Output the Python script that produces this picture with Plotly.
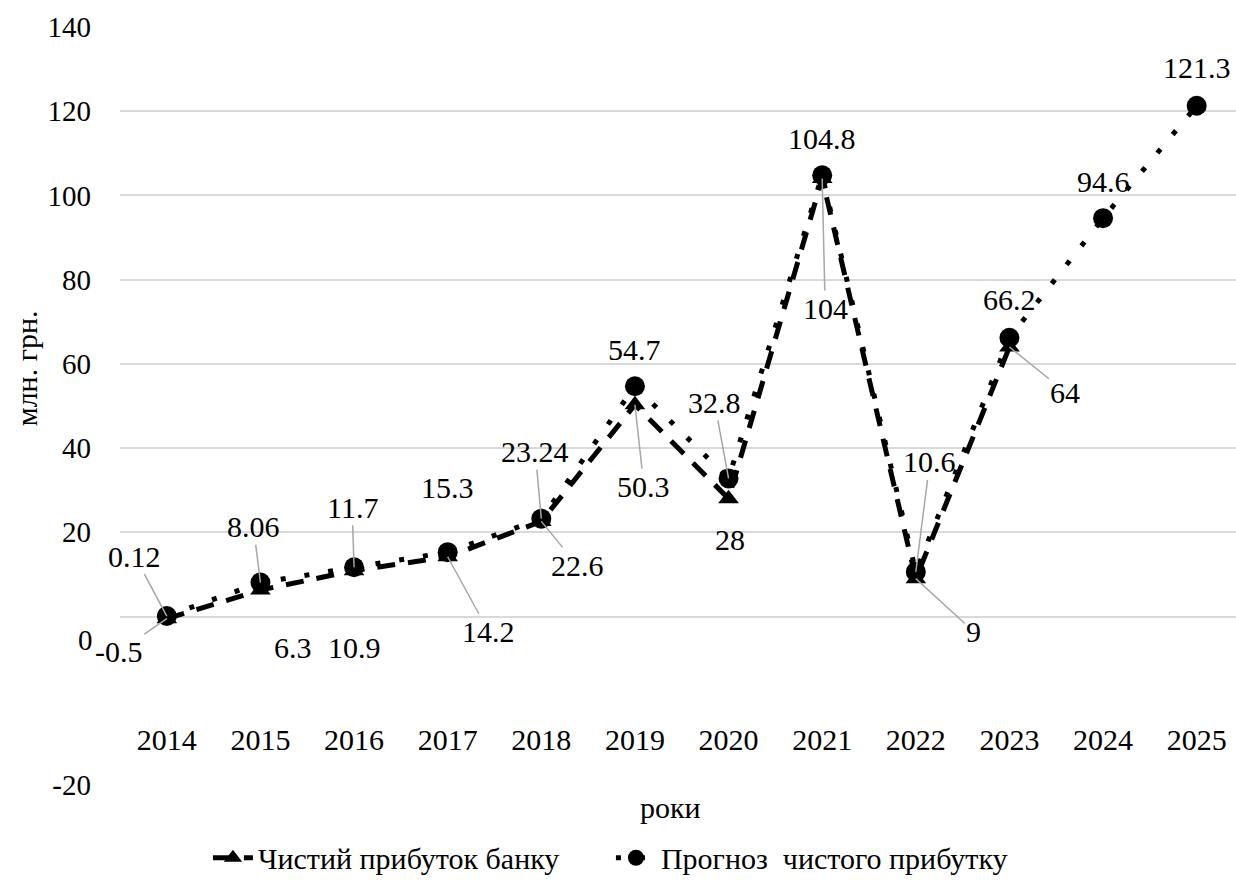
import plotly.graph_objects as go

# Values, mln UAH
years = ["2014", "2015", "2016", "2017", "2018", "2019",
         "2020", "2021", "2022", "2023", "2024", "2025"]
profit = [-0.5, 6.3, 10.9, 14.2, 22.6, 50.3, 28, 104, 9, 64]
forecast = [0.12, 8.06, 11.7, 15.3, 23.24, 54.7, 32.8, 104.8, 10.6, 66.2, 94.6, 121.3]

profit_name = "Чистий прибуток банку"
forecast_name = "Прогноз\u00a0 чистого прибутку"

# y tick labels (the lowest one stands in for the stretched bottom band)
y_tickvals = [-40, 20, 40, 60, 80, 100, 120, 140]
y_ticktext = ["-20", "20", "40", "60", "80", "100", "120", "140"]

FONT = "Liberation Serif"
FS = 30
TICK_FS = 29
LEADER = "#a6a6a6"

# data-label placement: (dx, dy, leader line shown)
profit_label_pos = [(-48, 33, True), (33, 57, False), (0, 77, False), (41, 75, True),
                    (36, 44, True), (9, 82, True), (1, 41, False), (3, 130, True),
                    (58, 53, True), (56, 45, True)]
forecast_label_pos = [(-32, -60, True), (-7, -56, True), (-2, -60, True), (0, -65, False),
                      (-6, -67, True), (0, -37, False), (-14, -76, True), (0, -37, False),
                      (14, -110, True), (0, -38, False), (0, -37, False), (0, -38, False)]

fig = go.Figure()
fig.add_trace(go.Scatter(
    x=years[:len(profit)], y=profit, name=profit_name, mode="lines+markers",
    line=dict(color="black", width=5, dash="18px,13px"),
    marker=dict(symbol="triangle-up", size=18, color="black"),
))
fig.add_trace(go.Scatter(
    x=years, y=forecast, name=forecast_name, mode="lines+markers",
    line=dict(color="black", width=5, dash="5px,19px"),
    marker=dict(symbol="circle", size=20, color="black"),
))


def txt_font(size=FS):
    return dict(family=FONT, size=size, color="black")


def label(idx, yv, dx, dy, leader):
    # category axes take the serial index of the category for annotations
    return dict(
        x=idx, y=yv, xref="x", yref="y", text=str(yv),
        showarrow=True, ax=dx, ay=dy, arrowhead=0, standoff=0, startstandoff=0,
        arrowwidth=1.5, arrowcolor=LEADER if leader else "rgba(0,0,0,0)",
        font=txt_font(),
    )


annotations = []
for i, (yv, (dx, dy, ld)) in enumerate(zip(profit, profit_label_pos)):
    annotations.append(label(i, yv, dx, dy, ld))
for i, (yv, (dx, dy, ld)) in enumerate(zip(forecast, forecast_label_pos)):
    annotations.append(label(i, yv, dx, dy, ld))

# zero tick label, sitting a little below its gridline
annotations.append(dict(
    x=0, y=0, xref="paper", yref="y", text="0", showarrow=False,
    xanchor="right", yanchor="middle", xshift=-25, yshift=-23, font=txt_font(TICK_FS),
))
# axis titles
annotations.append(dict(
    x=-0.084, y=0.55, xref="paper", yref="paper", text="млн. грн.", showarrow=False,
    textangle=-90, xanchor="center", yanchor="middle", font=txt_font(),
))
annotations.append(dict(
    x=0.493, y=-0.03, xref="paper", yref="paper", text="роки", showarrow=False,
    xanchor="center", yanchor="middle", font=txt_font(),
))

fig.update_layout(
    width=1236, height=888,
    margin=dict(l=120, r=0, t=27, b=103),
    paper_bgcolor="white", plot_bgcolor="white",
    font=dict(family=FONT, size=FS, color="black"),
    showlegend=True,
    legend=dict(orientation="h", x=0.0788, xanchor="left", y=-0.096, yanchor="middle",
                font=txt_font(), itemwidth=40, tracegroupgap=0, entrywidth=348),
    annotations=annotations,
    xaxis=dict(type="category", range=[-0.5, 11.42], showgrid=False, showline=False,
               zeroline=False, ticks="", anchor="free", position=0.087,
               tickfont=txt_font()),
    yaxis=dict(range=[-40, 140], tickvals=y_tickvals, ticktext=y_ticktext,
               showgrid=True, gridcolor="#d9d9d9", gridwidth=1.5,
               zeroline=True, zerolinecolor="#d9d9d9", zerolinewidth=1.5,
               showline=False, ticks="", ticklabelstandoff=28,
               tickfont=txt_font(TICK_FS)),
)

fig.write_html("out.html")
